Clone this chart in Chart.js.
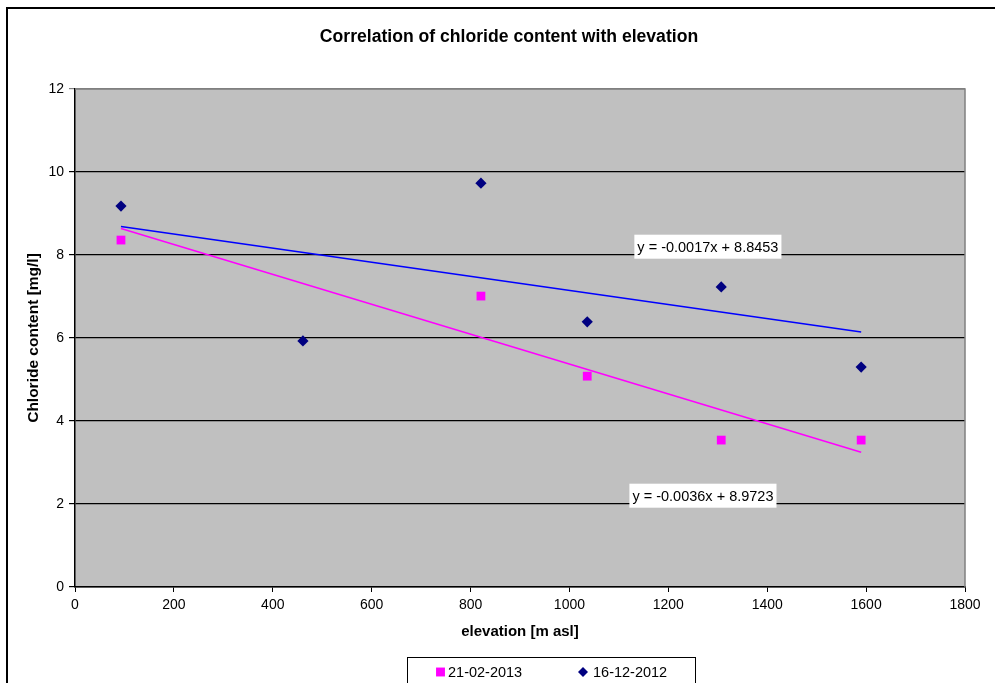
<!DOCTYPE html>
<html>
<head>
<meta charset="utf-8">
<title>Correlation of chloride content with elevation</title>
<script src="https://cdn.jsdelivr.net/npm/chart.js@4.4.0/dist/chart.umd.min.js"></script>
<style>
  html, body { margin: 0; padding: 0; background: #fff; }
  #wrap { width: 995px; height: 683px; }
</style>
</head>
<body>
<div id="wrap"><canvas id="chlorideChart" width="995" height="683"></canvas></div>
<script>
// sampling points: elevation [m asl] and chloride [mg/l]
let elevation2013 = [93, 821, 1036, 1307, 1590];
let chloride2013 = [8.36, 7.01, 5.08, 3.54, 3.54];
let elevation2012 = [93, 461, 821, 1036, 1307, 1590];
let chloride2012 = [9.18, 5.93, 9.73, 6.39, 7.23, 5.30];

let seriesNames = ['21-02-2013', '16-12-2012'];

// linear trends as [slope, intercept]
let trend2013 = [-0.0036, 8.9723];
let trend2012 = [-0.0017, 8.8453];

let xTicks = [0, 200, 400, 600, 800, 1000, 1200, 1400, 1600, 1800];
let yTicks = [0, 2, 4, 6, 8, 10, 12];

const FONT = "'Liberation Sans', Arial, sans-serif";

function points(xs, ys) {
    return xs.map((x, i) => ({ x: x, y: ys[i] }));
}

function trendLine(xs, coef) {
    let lo = Math.min(...xs);
    let hi = Math.max(...xs);
    return [lo, hi].map(x => ({ x: x, y: coef[0] * x + coef[1] }));
}

function equationText(coef) {
    return 'y = ' + coef[0].toFixed(4) + 'x + ' + coef[1].toFixed(4);
}

const decorations = {
    id: 'decorations',
    beforeDraw(chart) {
        let ctx = chart.ctx;
        let a = chart.chartArea;
        ctx.save();
        ctx.fillStyle = '#ffffff';
        ctx.fillRect(0, 0, chart.width, chart.height);
        ctx.fillStyle = '#c0c0c0';
        ctx.fillRect(a.left, a.top, a.right - a.left, a.bottom - a.top);
        // outer chart frame, runs off the right and bottom edges
        ctx.strokeStyle = '#000000';
        ctx.lineWidth = 2;
        ctx.strokeRect(7, 8, chart.width + 20, chart.height + 20);
        ctx.restore();
    },
    beforeDatasetsDraw(chart) {
        let ctx = chart.ctx;
        let a = chart.chartArea;
        ctx.save();
        ctx.strokeStyle = '#808080';
        ctx.lineWidth = 1.5;
        ctx.beginPath();
        ctx.moveTo(a.left, a.top);
        ctx.lineTo(a.right, a.top);
        ctx.lineTo(a.right, a.bottom);
        ctx.stroke();
        ctx.restore();
    },
    afterDatasetsDraw(chart) {
        let ctx = chart.ctx;
        let xs = chart.scales.x;
        let ys = chart.scales.y;
        let labels = [
            { text: equationText(trend2012), x: 1280, y: 8.2 },
            { text: equationText(trend2013), x: 1270, y: 2.2 }
        ];
        ctx.save();
        ctx.font = '14.5px ' + FONT;
        ctx.textAlign = 'center';
        ctx.textBaseline = 'middle';
        labels.forEach(l => {
            let px = xs.getPixelForValue(l.x);
            let py = ys.getPixelForValue(l.y);
            let w = ctx.measureText(l.text).width + 6;
            ctx.fillStyle = '#ffffff';
            ctx.fillRect(px - w / 2, py - 12, w, 24);
            ctx.fillStyle = '#000000';
            ctx.fillText(l.text, px, py + 1);
        });
        ctx.restore();
    },
    afterDraw(chart) {
        let ctx = chart.ctx;
        ctx.save();
        // title
        ctx.fillStyle = '#000000';
        ctx.font = 'bold 17.6px ' + FONT;
        ctx.textAlign = 'center';
        ctx.textBaseline = 'middle';
        ctx.fillText('Correlation of chloride content with elevation', 509, 37);

        // legend box
        ctx.strokeStyle = '#000000';
        ctx.lineWidth = 1;
        ctx.strokeRect(407.5, 657.5, 288, 40);
        ctx.font = '14.5px ' + FONT;
        ctx.textAlign = 'left';
        let entries = [
            { ds: chart.data.datasets[0], mx: 440.5, tx: 448, r: 6.3 },
            { ds: chart.data.datasets[1], mx: 583, tx: 593, r: 5 }
        ];
        entries.forEach(e => {
            ctx.fillStyle = e.ds.pointBackgroundColor;
            ctx.strokeStyle = e.ds.pointBackgroundColor;
            Chart.helpers.drawPoint(ctx, {
                pointStyle: e.ds.pointStyle,
                radius: e.r,
                rotation: 0,
                borderWidth: 0
            }, e.mx, 672);
            ctx.fillStyle = '#000000';
            ctx.fillText(e.ds.label, e.tx, 673);
        });
        ctx.restore();
    }
};

let chart = new Chart(document.getElementById('chlorideChart'), {
    type: 'scatter',
    data: {
        datasets: [
            {
                label: seriesNames[0],
                data: points(elevation2013, chloride2013),
                pointStyle: 'rect',
                pointRadius: 6.2,
                pointBackgroundColor: '#ff00ff',
                pointBorderColor: '#ff00ff',
                pointBorderWidth: 0,
                showLine: false
            },
            {
                label: seriesNames[1],
                data: points(elevation2012, chloride2012),
                pointStyle: 'rectRot',
                pointRadius: 5.6,
                pointBackgroundColor: '#000080',
                pointBorderColor: '#000080',
                pointBorderWidth: 0,
                showLine: false
            },
            {
                label: 'trend 21-02-2013',
                data: trendLine(elevation2013, trend2013),
                showLine: true,
                borderColor: '#ff00ff',
                borderWidth: 1.5,
                pointRadius: 0
            },
            {
                label: 'trend 16-12-2012',
                data: trendLine(elevation2012, trend2012),
                showLine: true,
                borderColor: '#0000ff',
                borderWidth: 1.5,
                pointRadius: 0
            }
        ]
    },
    options: {
        responsive: false,
        animation: false,
        events: [],
        layout: { padding: { left: 0, top: 89, right: 30, bottom: 0 } },
        plugins: {
            legend: { display: false },
            title: { display: false },
            tooltip: { enabled: false }
        },
        scales: {
            x: {
                type: 'linear',
                min: 0,
                max: 1800,
                afterBuildTicks: scale => { scale.ticks = xTicks.map(v => ({ value: v })); },
                afterFit: scale => { scale.height = 96; },
                grid: { drawOnChartArea: false, drawTicks: true, tickLength: 5, color: '#000000', lineWidth: 1 },
                border: { color: '#000000', width: 1.5 },
                ticks: {
                    color: '#000000',
                    font: { family: FONT, size: 14 },
                    padding: 5,
                    maxRotation: 0,
                    callback: v => String(v)
                },
                title: {
                    display: true,
                    text: 'elevation [m asl]',
                    color: '#000000',
                    font: { family: FONT, size: 15, weight: 'bold' },
                    padding: { top: 0, bottom: 42 }
                }
            },
            y: {
                type: 'linear',
                min: 0,
                max: 12,
                afterBuildTicks: scale => { scale.ticks = yTicks.map(v => ({ value: v })); },
                afterFit: scale => { scale.width = 75; },
                grid: {
                    color: ctx => (ctx.tick && ctx.tick.value === 12 ? '#808080' : '#000000'),
                    lineWidth: 1.2,
                    tickLength: 6
                },
                border: { color: '#000000', width: 1.5 },
                ticks: { color: '#000000', font: { family: FONT, size: 14 }, padding: 5, callback: v => String(v) },
                title: {
                    display: true,
                    text: 'Chloride content [mg/l]',
                    color: '#000000',
                    font: { family: FONT, size: 15.5, weight: 'bold' },
                    padding: { top: 24, bottom: 0 }
                }
            }
        }
    },
    plugins: [decorations]
});
</script>
</body>
</html>
